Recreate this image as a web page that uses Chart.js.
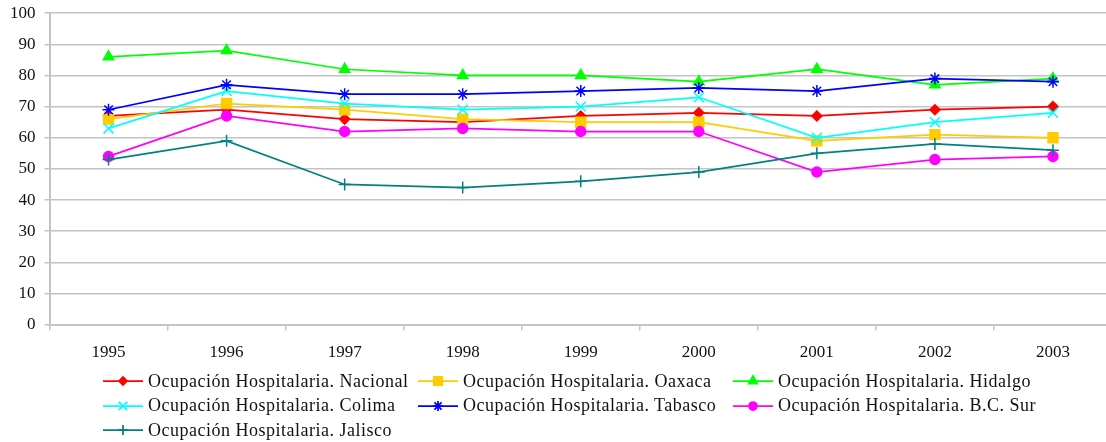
<!DOCTYPE html>
<html>
<head>
<meta charset="utf-8">
<script src="https://cdn.jsdelivr.net/npm/chart.js@4/dist/chart.umd.min.js"></script>
<style>
  body { margin: 0; background: #fff; }
  #wrap { position: relative; width: 1106px; height: 442px; overflow: hidden; }
  #box { position: absolute; left: 0; top: -6px; width: 1112px; height: 381px; }
  #legend {
    position: absolute; left: 103px; top: 369px;
    display: grid; grid-template-columns: 315px 315px 315px; grid-auto-rows: 24.5px;
    font-family: "Liberation Serif", "Times New Roman", serif;
    font-size: 18px; letter-spacing: 0.5px; color: #111;
  }
  .item { display: flex; align-items: center; white-space: nowrap; }
  .item canvas { margin-right: 5px; }
</style>
</head>
<body>
<div id="wrap">
  <div id="box"><canvas id="chart"></canvas></div>
  <div id="legend"></div>
</div>
<script>
const years = ['1995', '1996', '1997', '1998', '1999', '2000', '2001', '2002', '2003'];

const nacional = [67, 69, 66, 65, 67, 68, 67, 69, 70];
const oaxaca = [66, 71, 69, 66, 65, 65, 59, 61, 60];
const hidalgo = [86, 88, 82, 80, 80, 78, 82, 77, 79];
const colima = [63, 75, 71, 69, 70, 73, 60, 65, 68];
const tabasco = [69, 77, 74, 74, 75, 76, 75, 79, 78];
const bcSur = [54, 67, 62, 63, 62, 62, 49, 53, 54];
const jalisco = [53, 59, 45, 44, 46, 49, 55, 58, 56];

const series = [
  { label: 'Ocupación Hospitalaria. Nacional', data: nacional, color: '#ff0000', style: 'rectRot', r: 5 },
  { label: 'Ocupación Hospitalaria. Oaxaca', data: oaxaca, color: '#ffcc00', style: 'rect', r: 7 },
  { label: 'Ocupación Hospitalaria. Hidalgo', data: hidalgo, color: '#00ff00', style: 'triangle', r: 6 },
  { label: 'Ocupación Hospitalaria. Colima', data: colima, color: '#00ffff', style: 'crossRot', r: 7 },
  { label: 'Ocupación Hospitalaria. Tabasco', data: tabasco, color: '#0000ff', style: 'star', r: 6 },
  { label: 'Ocupación Hospitalaria. B.C. Sur', data: bcSur, color: '#ff00ff', style: 'circle', r: 5 },
  { label: 'Ocupación Hospitalaria. Jalisco', data: jalisco, color: '#008080', style: 'cross', r: 6 },
];

const FONT = '"Liberation Serif", "Times New Roman", serif';
const GRID = '#c4c4c4';

const chart = new Chart(document.getElementById('chart'), {
  type: 'line',
  data: {
    labels: years,
    datasets: series.map((s, i) => ({
      label: s.label,
      data: s.data,
      borderColor: s.color,
      backgroundColor: s.color,
      pointBorderColor: s.color,
      pointBackgroundColor: s.color,
      pointStyle: s.style,
      pointRadius: s.r,
      pointBorderWidth: 1.5,
      borderWidth: 1.75,
      tension: 0,
      fill: false,
      clip: false,
      order: series.length - i, // later series drawn on top, like the original
    })),
  },
  options: {
    responsive: true,
    maintainAspectRatio: false,
    animation: false,
    layout: { autoPadding: false, padding: { top: 2, left: 1, right: 0, bottom: 0 } },
    plugins: { legend: { display: false }, tooltip: { enabled: false } },
    scales: {
      x: {
        offset: true,
        grid: { offset: true, drawOnChartArea: false, color: GRID, lineWidth: 1.5, tickLength: 6 },
        border: { color: GRID, width: 2 },
        ticks: { color: '#111', padding: 12, font: { family: FONT, size: 17 }, maxRotation: 0 },
      },
      y: {
        min: 0,
        max: 100,
        ticks: { stepSize: 10, color: '#111', padding: 9, font: { family: FONT, size: 17 } },
        grid: { color: GRID, lineWidth: 1.5, tickLength: 5 },
        border: { color: GRID, width: 2 },
      },
    },
  },
});

// legend laid out in three aligned columns, symbols drawn with Chart.js point helper
const legend = document.getElementById('legend');
series.forEach(s => {
  const item = document.createElement('div');
  item.className = 'item';
  const c = document.createElement('canvas');
  c.width = 40;
  c.height = 16;
  const ctx = c.getContext('2d');
  ctx.strokeStyle = s.color;
  ctx.lineWidth = 1.75;
  ctx.beginPath();
  ctx.moveTo(0, 8);
  ctx.lineTo(40, 8);
  ctx.stroke();
  ctx.fillStyle = s.color;
  if (Chart.helpers && Chart.helpers.drawPoint) {
    Chart.helpers.drawPoint(ctx, { pointStyle: s.style, radius: s.r - 1, borderWidth: 1.5, rotation: 0 }, 20, 8);
  }
  const span = document.createElement('span');
  span.textContent = s.label;
  item.appendChild(c);
  item.appendChild(span);
  legend.appendChild(item);
});
</script>
</body>
</html>
